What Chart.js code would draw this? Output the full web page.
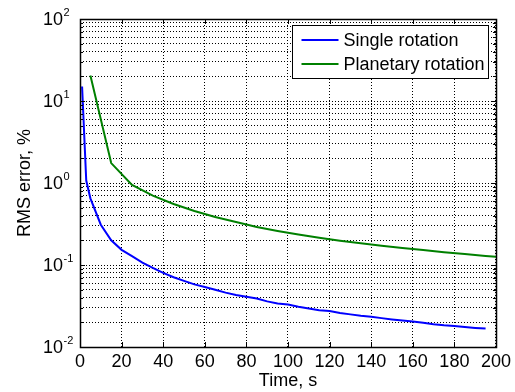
<!DOCTYPE html>
<html>
<head>
<meta charset="utf-8">
<script src="https://cdn.jsdelivr.net/npm/chart.js@4"></script>
<style>
  body { margin: 0; background: #fff; }
  #wrap { width: 515px; height: 392px; }
</style>
</head>
<body>
<div id="wrap"><canvas id="myChart"></canvas></div>
<script>
// Single rotation: time (s) and RMS error (%)
const timeSingle = [1, 3, 5, 10, 15, 20, 25, 30, 35, 40, 45, 50, 55, 60, 65, 70, 75, 80, 85, 90,
    95, 100, 105, 110, 115, 120, 125, 130, 135, 140, 145, 150, 155, 160, 165, 170, 175, 180, 185, 190, 195];
const errSingle = [15, 1.07, 0.65, 0.31, 0.2, 0.153, 0.128, 0.107, 0.092, 0.08, 0.071, 0.064, 0.058, 0.054, 0.05, 0.046,
    0.043, 0.041, 0.039, 0.036, 0.034, 0.033, 0.031, 0.0295, 0.028, 0.0275, 0.026, 0.025, 0.024, 0.0234,
    0.0225, 0.0217, 0.021, 0.0204, 0.0198, 0.019, 0.0184, 0.018, 0.0175, 0.0171, 0.0168];

// Planetary rotation
const timePlanet = [5, 15, 25, 35, 45, 55, 65, 75, 85, 95, 105, 115, 125, 135, 145, 155, 165, 175, 185, 195, 205];
const errPlanet = [20.5, 1.75, 0.95, 0.70, 0.555, 0.455, 0.385, 0.335, 0.29, 0.26, 0.235, 0.215, 0.198, 0.184,
    0.172, 0.161, 0.152, 0.143, 0.136, 0.129, 0.123];

const seriesNames = ["Single rotation", "Planetary rotation"];
const xTicks = [0, 20, 40, 60, 80, 100, 120, 140, 160, 180, 200];
const yDecades = [0.01, 0.1, 1, 10, 100];
const yExponents = ["-2", "-1", "0", "1", "2"];

const FONT = '"Liberation Sans", Arial, sans-serif';

// log grid: 1..9 in every decade
function logTicks() {
    const out = [];
    for (let i = 0; i < yDecades.length - 1; i++) {
        for (let k = 1; k <= 9; k++) out.push({ value: +(k * yDecades[i]).toPrecision(3) });
    }
    out.push({ value: yDecades[yDecades.length - 1] });
    return out;
}

function toPoints(xs, ys) {
    return xs.map((x, i) => ({ x: x, y: ys[i] }));
}

// axes box, inward ticks, 10^n labels and the boxed legend
const matlabFrame = {
    id: "matlabFrame",
    afterDraw(chart) {
        const ctx = chart.ctx;
        const a = chart.chartArea;
        const xs = chart.scales.x;
        const ys = chart.scales.y;
        ctx.save();
        ctx.strokeStyle = "#000";
        ctx.lineWidth = 1;

        // inward tick marks
        ctx.beginPath();
        xTicks.forEach(v => {
            const px = Math.round(xs.getPixelForValue(v)) + 0.5;
            ctx.moveTo(px, a.bottom); ctx.lineTo(px, a.bottom - 5);
            ctx.moveTo(px, a.top); ctx.lineTo(px, a.top + 5);
        });
        ys.ticks.forEach(t => {
            const py = Math.round(ys.getPixelForValue(t.value)) + 0.5;
            const len = yDecades.includes(t.value) ? 5 : 3;
            ctx.moveTo(a.left, py); ctx.lineTo(a.left + len, py);
            ctx.moveTo(a.right, py); ctx.lineTo(a.right - len, py);
        });
        ctx.stroke();

        // box
        ctx.lineWidth = 1.5;
        ctx.strokeRect(Math.round(a.left) + 0.5, Math.round(a.top) + 0.5,
            Math.round(a.right - a.left), Math.round(a.bottom - a.top));

        // y labels as 10 with a raised exponent
        ctx.fillStyle = "#000";
        yDecades.forEach((v, i) => {
            const py = ys.getPixelForValue(v);
            ctx.font = "18px " + FONT;
            ctx.textAlign = "left";
            ctx.textBaseline = "middle";
            ctx.fillText("10", 43, py + 1.5);
            const w = ctx.measureText("10").width;
            ctx.font = "11px " + FONT;
            ctx.textBaseline = "alphabetic";
            ctx.fillText(yExponents[i], 43 + w + 0.5, py - 3.5);
        });

        // legend
        const bw = 196, bh = 53;
        const bx = Math.round(a.right - 8 - bw) + 0.5;
        const by = Math.round(a.top + 6) + 0.5;
        ctx.fillStyle = "#fff";
        ctx.fillRect(bx, by, bw, bh);
        ctx.lineWidth = 1;
        ctx.strokeStyle = "#000";
        ctx.strokeRect(bx, by, bw, bh);
        chart.data.datasets.forEach((ds, i) => {
            const ry = by + 14.5 + i * 24;
            ctx.strokeStyle = ds.borderColor;
            ctx.lineWidth = 2;
            ctx.beginPath();
            ctx.moveTo(bx + 9, ry);
            ctx.lineTo(bx + 46, ry);
            ctx.stroke();
            ctx.fillStyle = "#000";
            ctx.font = "18px " + FONT;
            ctx.textBaseline = "middle";
            ctx.fillText(ds.label, bx + 51, ry + 1);
        });
        ctx.restore();
    }
};

const gridStyle = { color: "#000", lineWidth: 1, drawTicks: false };

const config = {
    type: "line",
    data: {
        datasets: [
            {
                label: seriesNames[0],
                data: toPoints(timeSingle, errSingle),
                borderColor: "#0000ff",
                borderWidth: 2,
                pointRadius: 0,
                fill: false,
                tension: 0
            },
            {
                label: seriesNames[1],
                data: toPoints(timePlanet, errPlanet),
                borderColor: "#008000",
                borderWidth: 2,
                pointRadius: 0,
                fill: false,
                tension: 0
            }
        ]
    },
    options: {
        responsive: true,
        maintainAspectRatio: false,
        animation: false,
        layout: { padding: { left: 0, right: 14, top: 19, bottom: 0 } },
        plugins: {
            legend: { display: false },
            tooltip: { enabled: false }
        },
        scales: {
            x: {
                type: "linear",
                min: 0,
                max: 200,
                afterBuildTicks: s => { s.ticks = xTicks.map(v => ({ value: v })); },
                afterFit: s => { s.height = 45; },
                grid: gridStyle,
                border: { display: false, dash: [1, 2] },
                ticks: { color: "#000", font: { family: FONT, size: 18 }, padding: 4, maxRotation: 0 },
                title: {
                    display: true,
                    text: "Time, s",
                    color: "#000",
                    font: { family: FONT, size: 18 },
                    padding: { top: 0, bottom: 0 }
                }
            },
            y: {
                type: "logarithmic",
                min: 0.01,
                max: 100,
                afterBuildTicks: s => { s.ticks = logTicks(); },
                afterFit: s => { s.width = 80; },
                grid: gridStyle,
                border: { display: false, dash: [1, 2] },
                ticks: { display: false, autoSkip: false },
                title: {
                    display: true,
                    text: "RMS error, %",
                    color: "#000",
                    font: { family: FONT, size: 18 },
                    padding: { top: 14, bottom: 0 }
                }
            }
        }
    },
    plugins: [matlabFrame]
};

const myChart = new Chart(document.getElementById("myChart"), config);
</script>
</body>
</html>
